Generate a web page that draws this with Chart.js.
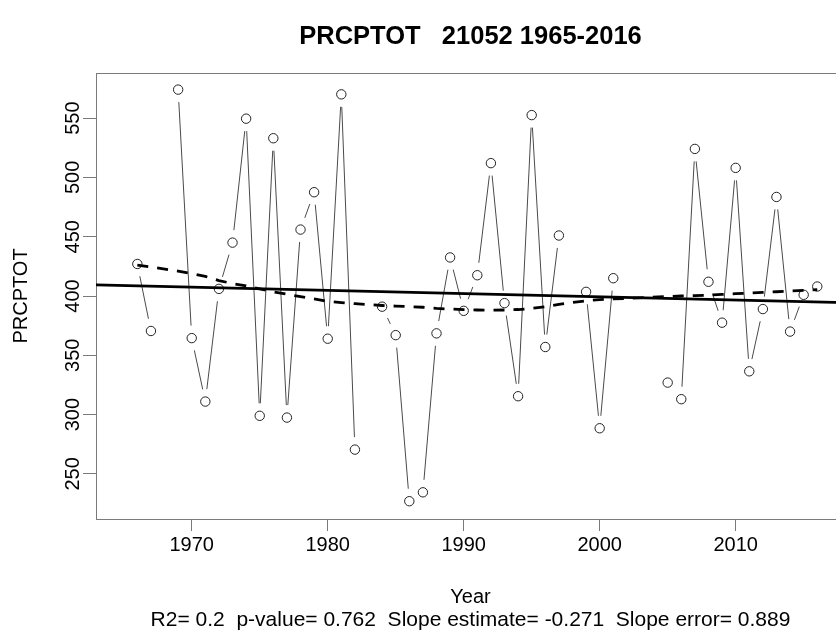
<!DOCTYPE html>
<html>
<head>
<meta charset="utf-8">
<title>PRCPTOT 21052 1965-2016</title>
<script src="https://cdn.jsdelivr.net/npm/chart.js@4.4.1/dist/chart.umd.min.js"></script>
<style>
  html, body { margin: 0; padding: 0; overflow: hidden; background: #ffffff; }
  canvas { display: block; }
</style>
</head>
<body>
<canvas id="chart" width="860" height="632"></canvas>
<script>
// Annual total precipitation (PRCPTOT), station 21052
const years = [
  1966, 1967, 1969, 1970, 1971, 1972, 1973, 1974, 1975, 1976, 1977, 1978, 1979, 1980, 1981, 1982,
  1984, 1985, 1986, 1987, 1988, 1989, 1990, 1991, 1992, 1993, 1994, 1995, 1996, 1997,
  1999, 2000, 2001,
  2005, 2006, 2007, 2008, 2009, 2010, 2011, 2012, 2013, 2014, 2015, 2016
];
const prcptot = [
  427, 370.5, 574, 364.5, 311, 406, 445, 549.5, 299, 533, 297.5, 456, 487.5, 364, 570, 270.5,
  391, 367, 227, 234.5, 368.5, 432.5, 387.5, 417.5, 512, 394, 315.5, 552.5, 357, 451,
  403.5, 288.5, 415,
  327, 313, 524, 412, 377.5, 508, 336.5, 389, 483.5, 370, 401, 408
];

// Locally weighted smooth of the series (dashed curve)
const smoothYears = years;
const smoothValues = [
  426, 424.5, 421, 419, 416.5, 413, 410.5, 408.5, 406, 403.5, 401.5, 399.5, 397.5, 395.5, 394.5, 393.5,
  392, 391.5, 391, 390.5, 389.5, 389, 388.5, 388.2, 388, 388.2, 388.6, 389.5, 391, 393,
  396, 397, 397.5,
  399.5, 400, 400.3, 400.7, 401.3, 402, 402.5, 403, 403.6, 404.2, 404.8, 405.3
];

// Least-squares trend line, evaluated at the plot edges
const trendYears = [1962.96, 2018.04];
const trendValues = [409.3, 394.4];

const xRange = [1962.96, 2018.04];
const yRange = [212, 588];
const xTicks = [1970, 1980, 1990, 2000, 2010];
const yTicks = [250, 300, 350, 400, 450, 500, 550];

const titleText = 'PRCPTOT   21052 1965-2016';
const xAxisTitle = 'Year';
const yAxisTitle = 'PRCPTOT';
const statsText = 'R2= 0.2  p-value= 0.762  Slope estimate= -0.271  Slope error= 0.889';

const FONT = "'Liberation Sans', Arial, Helvetica, sans-serif";

// Frame around the plotting region
const plotFrame = {
  id: 'plotFrame',
  beforeDatasetsDraw(chart) {
    const { ctx, chartArea: a } = chart;
    ctx.save();
    ctx.strokeStyle = '#7a7a7a';
    ctx.lineWidth = 1;
    ctx.strokeRect(Math.round(a.left) + 0.5, Math.round(a.top) + 0.5,
                   Math.round(a.right - a.left), Math.round(a.bottom - a.top));
    ctx.restore();
  }
};

// Connect consecutive years with segments that stop short of each marker
const gappedLines = {
  id: 'gappedLines',
  beforeDatasetsDraw(chart) {
    const idx = chart.data.datasets.findIndex(d => d.label === 'PRCPTOT');
    const meta = chart.getDatasetMeta(idx);
    const pts = chart.data.datasets[idx].data;
    const ctx = chart.ctx;
    const gap = 12.5;
    ctx.save();
    ctx.beginPath();
    ctx.rect(chart.chartArea.left, chart.chartArea.top,
             chart.chartArea.right - chart.chartArea.left, chart.chartArea.bottom - chart.chartArea.top);
    ctx.clip();
    ctx.strokeStyle = '#4a4a4a';
    ctx.lineWidth = 1;
    ctx.beginPath();
    for (let i = 1; i < pts.length; i++) {
      if (pts[i].x - pts[i - 1].x !== 1) continue;
      const a = meta.data[i - 1], b = meta.data[i];
      const dx = b.x - a.x, dy = b.y - a.y;
      const len = Math.hypot(dx, dy);
      if (len <= 2 * gap) continue;
      const ux = dx / len, uy = dy / len;
      ctx.moveTo(a.x + ux * gap, a.y + uy * gap);
      ctx.lineTo(b.x - ux * gap, b.y - uy * gap);
    }
    ctx.stroke();
    ctx.restore();
  }
};

const toPoints = (xs, ys) => xs.map((x, i) => ({ x: x, y: ys[i] }));

new Chart(document.getElementById('chart'), {
  type: 'scatter',
  data: {
    datasets: [
      {
        label: 'Trend',
        data: toPoints(trendYears, trendValues),
        showLine: true,
        borderColor: '#000000',
        borderWidth: 2.8,
        pointRadius: 0,
        tension: 0
      },
      {
        label: 'Smooth',
        data: toPoints(smoothYears, smoothValues),
        showLine: true,
        borderColor: '#000000',
        borderWidth: 2.8,
        borderDash: [11, 9],
        borderCapStyle: 'butt',
        pointRadius: 0,
        tension: 0
      },
      {
        label: 'PRCPTOT',
        data: toPoints(years, prcptot),
        showLine: false,
        pointStyle: 'circle',
        pointRadius: 4.7,
        pointBorderWidth: 1,
        pointBorderColor: '#222222',
        pointBackgroundColor: 'rgba(0,0,0,0)'
      }
    ]
  },
  options: {
    responsive: false,
    animation: false,
    devicePixelRatio: 1,
    layout: { padding: { left: 0, right: 15, top: 0, bottom: 0 } },
    plugins: {
      legend: { display: false },
      tooltip: { enabled: false },
      title: {
        display: true,
        text: titleText,
        color: '#000000',
        fullSize: false,
        font: { family: FONT, size: 25.5, weight: 'bold', lineHeight: 1.2 },
        padding: { top: 22, bottom: 20.4 }
      },
      subtitle: {
        display: true,
        position: 'bottom',
        text: statsText,
        color: '#000000',
        fullSize: false,
        font: { family: FONT, size: 21, weight: 'normal', lineHeight: 1.2 },
        padding: { top: 0, bottom: -0.5 }
      }
    },
    scales: {
      x: {
        type: 'linear',
        min: xRange[0],
        max: xRange[1],
        afterBuildTicks: s => { s.ticks = xTicks.map(v => ({ value: v })); },
        afterFit: s => { s.height = 88.3; },
        border: { display: false },
        grid: { drawOnChartArea: false, drawTicks: true, tickLength: 12, color: '#7a7a7a', lineWidth: 1 },
        ticks: {
          color: '#000000',
          font: { family: FONT, size: 20 },
          padding: 2,
          maxRotation: 0,
          autoSkip: false,
          callback: v => String(v)
        },
        title: {
          display: true,
          text: xAxisTitle,
          color: '#000000',
          font: { family: FONT, size: 20, lineHeight: 1.2 },
          padding: { top: 0, bottom: -2 }
        }
      },
      y: {
        type: 'linear',
        min: yRange[0],
        max: yRange[1],
        afterBuildTicks: s => { s.ticks = yTicks.map(v => ({ value: v })); },
        afterFit: s => { s.width = 96; },
        border: { display: false },
        grid: { drawOnChartArea: false, drawTicks: true, tickLength: 13, color: '#7a7a7a', lineWidth: 1 },
        ticks: {
          color: '#000000',
          font: { family: FONT, size: 20 },
          minRotation: 90,
          maxRotation: 90,
          crossAlign: 'center',
          padding: -7,
          autoSkip: false,
          callback: v => String(v)
        },
        title: {
          display: true,
          text: yAxisTitle,
          color: '#000000',
          font: { family: FONT, size: 20, lineHeight: 1.2 },
          padding: { top: 9, bottom: 0 }
        }
      }
    }
  },
  plugins: [plotFrame, gappedLines]
});
</script>
</body>
</html>
